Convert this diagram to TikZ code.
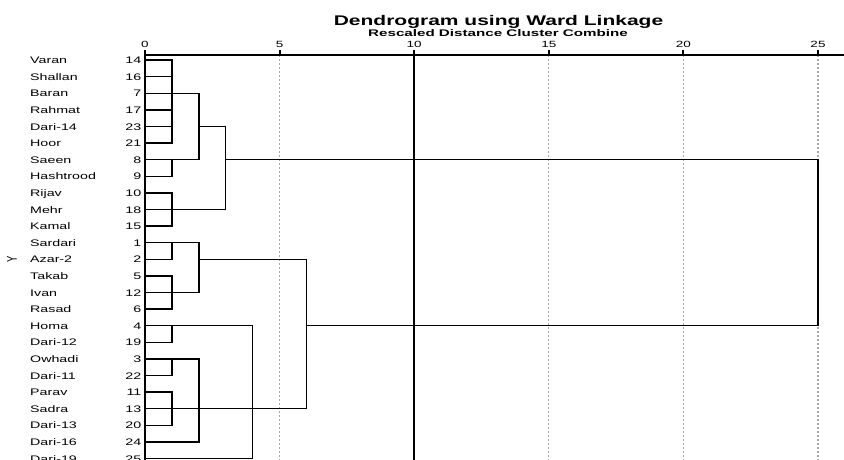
\documentclass[tikz,border=0pt]{standalone}
\usepackage{graphicx}
\usepackage{fontspec}
\setmainfont{Liberation Sans}
\newcommand{\sx}[1]{\scalebox{1.5}[1]{#1}}
\begin{document}
\begin{tikzpicture}[x=1pt,y=-1pt,
  namelbl/.style={anchor=base west,inner sep=0pt,font=\fontsize{9.5}{11}\selectfont},
  numlbl/.style={anchor=base east,inner sep=0pt,font=\fontsize{9.5}{11}\selectfont},
  ticklbl/.style={anchor=base,inner sep=0pt,font=\fontsize{9}{11}\selectfont},
  titlelbl/.style={anchor=base,inner sep=0pt,font=\fontsize{14}{16}\selectfont\bfseries},
  sublbl/.style={anchor=base,inner sep=0pt,font=\fontsize{9.6}{11}\selectfont\bfseries},
  link/.style={line width=1.4pt,line cap=rect,black},
  gridln/.style={draw=black!35,line width=1.3pt,dash pattern=on 2pt off 2pt},
  tickln/.style={line width=2pt,black}]
\useasboundingbox (0,0) rectangle (844,459);
\clip (0,0) rectangle (844,459);
\fill[white] (0,0) rectangle (844,459);

% titles
\node[titlelbl] (title) at (498.5,25) {\scalebox{1.5}[1]{Dendrogram using Ward Linkage}};
\node[sublbl] (subtitle) at (498,36.7) {\scalebox{1.58}[1]{Rescaled Distance Cluster Combine}};

% Y label
\node[inner sep=0pt,rotate=90,font=\fontsize{9.5}{11}\selectfont] (ylab) at (12,259) {\scalebox{1}[1.5]{Y}};

% leaf labels
\foreach \n/\k [count=\i from 0] in {Varan/14,Shallan/16,Baran/7,Rahmat/17,Dari-14/23,Hoor/21,Saeen/8,Hashtrood/9,Rijav/10,Mehr/18,Kamal/15,Sardari/1,Azar-2/2,Takab/5,Ivan/12,Rasad/6,Homa/4,Dari-12/19,Owhadi/3,Dari-11/22,Parav/11,Sadra/13,Dari-13/20,Dari-16/24,Dari-19/25}{
  \node[namelbl] (name\i) at (30,{63.6+16.6*\i}) {\sx{\n}};
  \node[numlbl] (num\i) at (141.5,{63.6+16.6*\i}) {\sx{\k}};
}

\begin{scope}[shift={(145,60)},x=26.92pt,y=-16.6pt]
  % grid lines
  \foreach \v in {5,15,20,25}{
    \draw[gridln] (\v,-0.3) -- (\v,24.6);
  }
  \draw[line width=2.2pt,black] (10,-0.6) -- (10,24.6);
  % axis
  \draw[line width=1.3pt,black] (0,-0.3) -- (26.5,-0.3);
  \draw[line width=1.6pt,black] (0,-0.6) -- (0,24.6);
  \foreach \v in {0,5,10,15,20,25}{
    \draw[tickln] (\v,-0.6) -- (\v,-0.3);
    \node[ticklbl] (tick\v) at (\v,-0.74) {\sx{\v}};
  }
  % leaf coordinates
  \foreach \i in {0,...,24}{ \coordinate (L\i) at (0,\i); }
  % leaves joining at distance 1
  \foreach \i in {0,...,22}{ \draw[link] (L\i) -- (1,\i); }
  \draw[link] (L23) -- (2,23);
  \draw[link] (L24) -- (4,24);
  % cluster A
  \draw[link] (1,0) -- (1,5) (1,2) -- (2,2);
  \draw[link] (1,6) -- (1,7) (1,6) -- (2,6);
  \draw[link] (2,2) -- (2,6) (2,4) -- (3,4);
  \draw[link] (1,8) -- (1,10) (1,9) -- (3,9);
  \draw[link] (3,4) -- (3,9) (3,6) -- (25,6);
  % cluster B
  \draw[link] (1,11) -- (1,12) (1,11) -- (2,11);
  \draw[link] (1,13) -- (1,15) (1,14) -- (2,14);
  \draw[link] (2,11) -- (2,14) (2,12) -- (6,12);
  % cluster C
  \draw[link] (1,16) -- (1,17) (1,16) -- (4,16);
  \draw[link] (1,18) -- (1,19) (1,18) -- (2,18);
  \draw[link] (1,20) -- (1,22) (1,21) -- (2,21);
  \draw[link] (2,18) -- (2,23) (2,21) -- (4,21);
  \draw[link] (4,16) -- (4,24) (4,21) -- (6,21);
  % B + C
  \draw[link] (6,12) -- (6,21) (6,16) -- (25,16);
  % root
  \draw[link] (25,6) -- (25,16);
\end{scope}
\end{tikzpicture}
\end{document}
